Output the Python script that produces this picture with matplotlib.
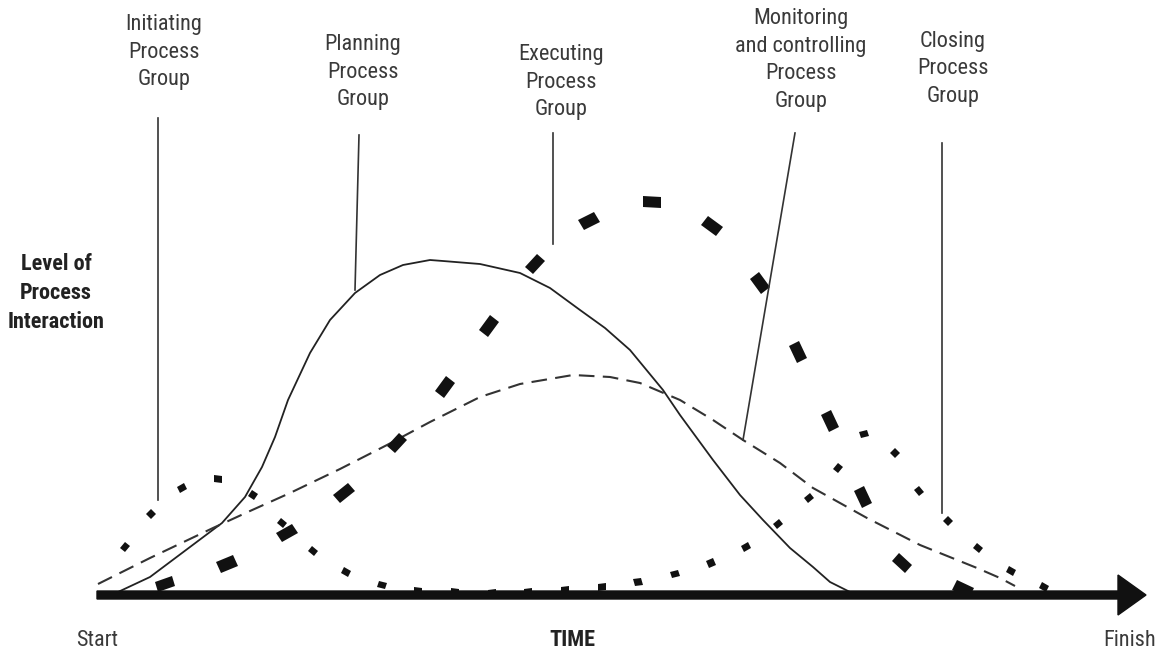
import numpy as np
import matplotlib
matplotlib.use('Agg')
import matplotlib.pyplot as plt
from matplotlib import font_manager
from matplotlib.markers import MarkerStyle
from matplotlib.transforms import Affine2D

# narrow sans if available, else regular at a smaller size
names = {f.name for f in font_manager.fontManager.ttflist}
narrow = [n for n in ['Liberation Sans Narrow', 'Roboto Condensed', 'Arial Narrow']
          if n in names]
fam = narrow[0] if narrow else 'Liberation Sans'
fs = 16 if narrow else 14.5
plt.rcParams['font.family'] = [fam, 'DejaVu Sans']

# time runs left->right, level is height above the time axis
axis_y = 595
t_start, t_end = 97, 1146

# Planning process group (solid)
plan_t = [118, 150, 190, 222, 245, 262, 275, 288, 310, 330, 355, 380, 403, 430, 443,
          480, 520, 550, 580, 605, 630, 663, 680, 713, 740, 763, 790, 813, 830, 850]
plan_lvl = [3, 18, 48, 72, 98, 128, 158, 195, 242, 275, 302, 320, 330, 335, 334,
            331, 322, 307, 285, 267, 245, 205, 180, 135, 100, 75, 47, 28, 13, 3]

# Monitoring and controlling (dashed)
mon_t = [98, 150, 213, 250, 290, 340, 387, 430, 480, 520, 573, 610, 640, 680, 713,
         743, 780, 813, 867, 920, 977, 1000, 1015]
mon_lvl = [11, 37, 67, 84, 102, 126, 150, 173, 198, 211, 220, 218, 212, 195, 175,
           155, 132, 107, 77, 50, 27, 17, 9]

# Executing (heavy dashes)
exe_t = [165, 227, 287, 344, 397, 445, 489, 535, 589, 652, 712, 760, 798, 830, 863, 902, 963]
exe_lvl = [11, 31, 62, 102, 152, 208, 269, 331, 374, 393, 369, 312, 243, 174, 98, 32, 6]

# Initiating (dots)
ini_t = [125, 151, 182, 218, 253, 282, 313, 346, 382, 418, 455]
ini_lvl = [48, 81, 107, 116, 100, 72, 44, 23, 10, 4, 3]

# Closing (dots)
clo_t = [492, 528, 565, 602, 638, 675, 711, 746, 778, 809, 838, 864, 895, 919, 948,
         978, 1011, 1044]
clo_lvl = [2, 3, 5, 8, 13, 21, 32, 48, 71, 97, 127, 161, 142, 104, 74, 47, 24, 8]

labels = ['Initiating\nProcess\nGroup', 'Planning\nProcess\nGroup',
          'Executing\nProcess\nGroup', 'Monitoring\nand controlling\nProcess\nGroup',
          'Closing\nProcess\nGroup']
label_t = [164, 363, 561, 801, 953]
label_lvl = [543, 523, 513, 535, 526]
lead_top = [(158, 477), (359, 460), (553, 462), (795, 462), (942, 452)]
lead_bot = [(158, 95), (355, 305), (553, 351), (743, 155), (942, 82)]

fig = plt.figure(figsize=(11.58, 6.51), dpi=100)
ax = fig.add_axes([0, 0, 1, 1])
ax.set_xlim(0, 1158)
ax.set_ylim(axis_y - 651, axis_y)
ax.axis('off')

ax.plot(plan_t, plan_lvl, color='#222222', lw=1.3, solid_capstyle='round',
        solid_joinstyle='round')
ax.plot(mon_t, mon_lvl, color='#333333', lw=1.5, linestyle=(0, (7.5, 4)))


def rotated_marks(t, lvl, w, h, ms):
    t = np.asarray(t, float)
    lvl = np.asarray(lvl, float)
    ang = np.degrees(np.arctan2(np.gradient(lvl), np.gradient(t)))
    for xi, yi, a in zip(t, lvl, ang):
        m = MarkerStyle('s', transform=Affine2D().scale(w, h).rotate_deg(a))
        ax.plot(xi, yi, marker=m, ms=ms, mew=0, color='#111111', ls='none')


rotated_marks(exe_t, exe_lvl, 1.75, 1.05, 7.5)
rotated_marks(ini_t, ini_lvl, 1.15, 1.0, 5.0)
rotated_marks(clo_t, clo_lvl, 1.15, 1.0, 5.0)

# time axis arrow
ax.arrow(t_start, 0, t_end - t_start, 0, width=8, head_width=40, head_length=28,
         length_includes_head=True, color='#111111', zorder=5)

# leader lines and labels
for (x0, y0), (x1, y1) in zip(lead_top, lead_bot):
    ax.plot([x0, x1], [y0, y1], color='#333333', lw=1.2)
for s, x, y in zip(labels, label_t, label_lvl):
    ax.text(x, y, s, ha='center', va='center', fontsize=fs, color='#3a3a3a',
            linespacing=1.4, multialignment='center')

ax.text(56, 302, 'Level of\nProcess\nInteraction', ha='center', va='center',
        fontsize=fs, fontweight='bold', color='#222222', linespacing=1.4)
ax.text(97, -45, 'Start', ha='center', va='center', fontsize=fs, color='#3a3a3a')
ax.text(572, -45, 'TIME', ha='center', va='center', fontsize=fs, fontweight='bold',
        color='#222222')
ax.text(1156, -45, 'Finish', ha='right', va='center', fontsize=fs, color='#3a3a3a')

fig.savefig('out.png', dpi=100, facecolor='white')
